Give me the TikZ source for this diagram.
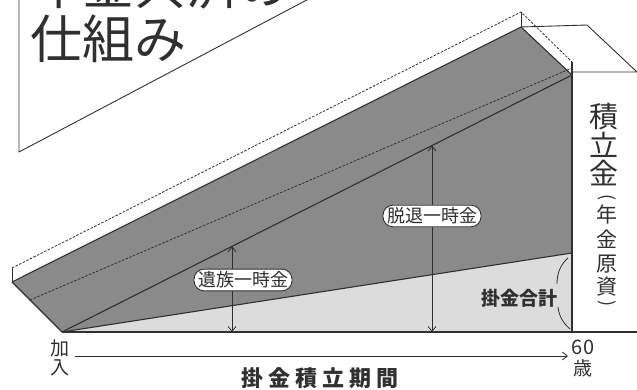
\documentclass[tikz,border=0pt]{standalone}
\usepackage{fontspec}
\newfontfamily\jp{Noto Sans CJK JP}
\usetikzlibrary{arrows.meta}
\definecolor{darkfill}{HTML}{8A8A8A}
\definecolor{lightfill}{HTML}{DCDCDC}
\definecolor{ink}{HTML}{303030}
\begin{document}
\begin{tikzpicture}[x=1pt,y=-1pt,line join=round,
  edge/.style={draw=ink,line width=1.1pt},
  thinedge/.style={draw=ink,line width=0.9pt},
  dashline/.style={draw=ink,line width=0.8pt,dash pattern=on 2.5pt off 1.5pt},
  arr/.style={draw=ink,line width=0.8pt,{Straight Barb[length=5pt,width=8pt]}-{Straight Barb[length=5pt,width=8pt]}},
  arrone/.style={draw=ink,line width=0.8pt,-{Straight Barb[length=5pt,width=8pt]}},
  lbl/.style={font=\jp\fontsize{18}{18}\selectfont,text=ink,draw=ink,line width=0.9pt,rounded corners=10pt,fill=white,inner xsep=4pt,inner ysep=2.5pt},
  txt/.style={font=\jp\fontsize{19}{19}\selectfont,text=ink,inner sep=0pt},
  big/.style={font=\jp\fontsize{52}{52}\selectfont,text=ink,inner sep=0pt,anchor=base west},
  side/.style={font=\jp\fontsize{29}{29}\selectfont,text=ink,inner sep=0pt},
  sidesmall/.style={font=\jp\fontsize{21}{21}\selectfont,text=ink,inner sep=0pt},
  paren/.style={font=\jp\fontsize{18}{18}\selectfont,text=ink,inner sep=0pt,rotate=-90}]
\useasboundingbox (0,0) rectangle (637,390);
% title frame
\coordinate (t0) at (19,-5);
\coordinate (t1) at (19,152);
\coordinate (t2) at (320,-7);
\draw[thinedge] (t0) -- (t1) -- (t2);
\node[big] (title1) at (30,5) {年金共済の};
\node[big] (title2) at (30,59) {仕組み};
% wedge coordinates
\coordinate (A) at (12,282);
\coordinate (B) at (521,27);
\coordinate (C) at (572,75);
\coordinate (D) at (572,253);
\coordinate (E) at (62,332);
\coordinate (F) at (572,332);
\coordinate (A2) at (12,268);
\coordinate (B2) at (521,12);
\coordinate (C2) at (572,62);
\coordinate (G) at (30,300);
\coordinate (H) at (572,68);
\coordinate (Fr) at (637,332);
% fills
\fill[white] (A2) -- (B2) -- (C2) -- (C) -- (B) -- (A) -- cycle;
\fill[darkfill] (A) -- (B) -- (C) -- (D) -- (E) -- cycle;
\fill[lightfill] (E) -- (D) -- (F) -- cycle;
% lid box at right
\coordinate (K1) at (587,25);
\coordinate (K2) at (637,72);
\coordinate (K3) at (572,72);
\draw[thinedge] (B) -- (K1) -- (K2) -- (K3);
% outlines
\draw[dashline] (A2) -- (B2) -- (C2);
\draw[thinedge] (A2) -- (A);
\draw[thinedge] (B2) -- (B);
\draw[edge] (A) -- (B) -- (C);
\draw[edge] (A) -- (E);
\draw[edge] (C2) -- (F);
\draw[edge] (E) -- (Fr);
\draw[dashline] (G) -- (H);
\draw[edge] (E) -- (C);
\draw[edge] (E) -- (D);
% arrows
\coordinate (p1) at (232,246.3);
\coordinate (q1) at (232,332);
\coordinate (p2) at (432,145.5);
\coordinate (q2) at (432,332);
\draw[arr] (p1) -- (q1);
\draw[arr] (p2) -- (q2);
\node[lbl] (izoku) at (243,280) {遺族一時金};
\node[lbl] (dattai) at (432,216) {脱退一時金};
% kakekin goukei
\node[txt,font=\jp\bfseries\fontsize{19}{19}\selectfont] (goukei) at (519,298) {掛金合計};
\coordinate (c1) at (568,258);
\coordinate (c2) at (557,284);
\coordinate (c3) at (558,307);
\coordinate (c4) at (570,329);
\draw[draw=ink,line width=0.8pt] (c1) .. controls (560,265) and (557,274) .. (c2);
\draw[draw=ink,line width=0.8pt] (c3) .. controls (559,316) and (563,323) .. (c4);
% side text
\node[side] (s1) at (604,117) {積};
\node[side] (s2) at (604,145) {立};
\node[side] (s3) at (604,173) {金};
\node[paren] (s4) at (607,198) {(};
\node[sidesmall] (s5) at (607,214) {年};
\node[sidesmall] (s6) at (607,239) {金};
\node[sidesmall] (s7) at (607,264) {原};
\node[sidesmall] (s8) at (607,287) {資};
\node[paren] (s9) at (607,304) {)};
% bottom
\node[txt] (ka) at (60,348) {加};
\node[txt] (nyu) at (60,368) {入};
\node[txt,font=\jp\fontsize{20}{20}\selectfont] (sixty) at (583,347) {60};
\node[txt] (sai) at (583,368) {歳};
\coordinate (L) at (75,356);
\coordinate (R) at (568,356);
\draw[arrone] (L) -- (R);
\node[txt,font=\jp\bfseries\fontsize{22}{22}\selectfont] (period) at (320,378) {掛\hspace{5pt}金\hspace{5pt}積\hspace{5pt}立\hspace{5pt}期\hspace{5pt}間};
\end{tikzpicture}
\end{document}
